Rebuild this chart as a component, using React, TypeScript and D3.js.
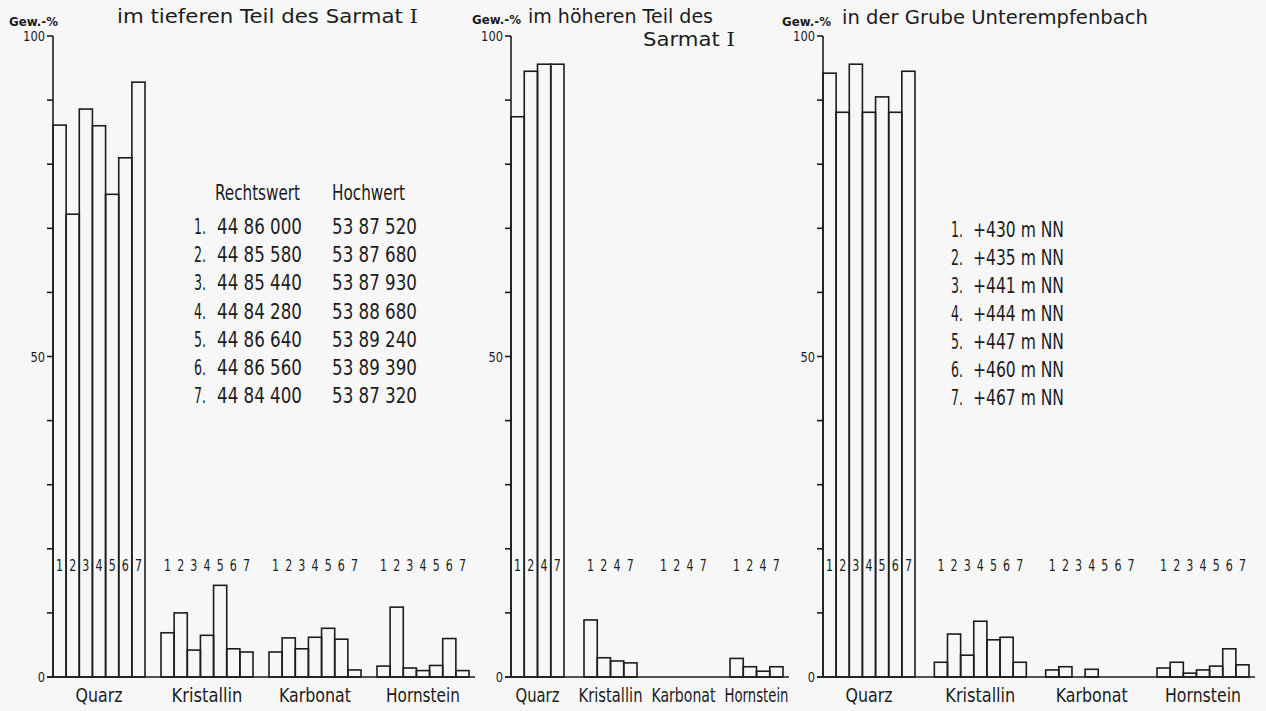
import React from 'react';
import * as d3 from 'd3';

// ---------- data ----------
const categories = ['Quarz', 'Kristallin', 'Karbonat', 'Hornstein'];

// Panel 1: im tieferen Teil des Sarmat I
const samples1 = ['1', '2', '3', '4', '5', '6', '7'];
const quarz1 = [86.1, 72.2, 88.6, 86.0, 75.3, 81.0, 92.8];
const kristallin1 = [6.9, 10.0, 4.2, 6.5, 14.3, 4.4, 3.9];
const karbonat1 = [3.9, 6.1, 4.4, 6.2, 7.6, 5.9, 1.1];
const hornstein1 = [1.7, 10.9, 1.4, 1.0, 1.8, 6.0, 1.0];

// Panel 2: im höheren Teil des Sarmat I
const samples2 = ['1', '2', '4', '7'];
const quarz2 = [87.4, 94.5, 95.6, 95.6];
const kristallin2 = [8.9, 3.0, 2.5, 2.2];
const karbonat2 = [0, 0, 0, 0];
const hornstein2 = [2.9, 1.6, 0.9, 1.6];

// Panel 3: in der Grube Unterempfenbach
const samples3 = ['1', '2', '3', '4', '5', '6', '7'];
const quarz3 = [94.2, 88.1, 95.6, 88.1, 90.5, 88.1, 94.5];
const kristallin3 = [2.3, 6.7, 3.4, 8.7, 5.8, 6.2, 2.3];
const karbonat3 = [1.1, 1.6, 0, 1.2, 0, 0, 0];
const hornstein3 = [1.4, 2.3, 0.6, 1.1, 1.7, 4.4, 1.9];

// Tables
const tableHeaders = ['Rechtswert', 'Hochwert'];
const rechtswert = ['44 86 000', '44 85 580', '44 85 440', '44 84 280', '44 86 640', '44 86 560', '44 84 400'];
const hochwert = ['53 87 520', '53 87 680', '53 87 930', '53 88 680', '53 89 240', '53 89 390', '53 87 320'];
const hoehen = ['+430', '+435', '+441', '+444', '+447', '+460', '+467'];

const yLabelValues = [0, 50, 100];
const yUnit = 'Gew.-%';

// ---------- layout / style ----------
const INK = '#1c1c1c';
const BG = '#f7f7f7';
const DIN = "'Liberation Sans Narrow','DejaVu Sans Condensed','Roboto Condensed',sans-serif";
const TITLE = "'DejaVu Sans','Noto Sans',sans-serif";
const SW = 1.6;

const y = d3.scaleLinear().domain([0, 100]).range([677, 36]);

type Panel = {
  samples: string[];
  values: number[][];
  x0: number;
  x1: number;
  pad: number;
  unitX: number;
  unitY: number;
  catW: number[];
  titles: { text: string; x: number; y: number; w: number; roman?: boolean }[];
};

const panels: Panel[] = [
  {
    samples: samples1,
    values: [quarz1, kristallin1, karbonat1, hornstein1],
    x0: 53, x1: 469, pad: 0.148,
    unitX: 9, unitY: 26,
    catW: [47, 71, 72, 74],
    titles: [{ text: 'im tieferen Teil des Sarmat', x: 117, y: 23, w: 301, roman: true }],
  },
  {
    samples: samples2,
    values: [quarz2, kristallin2, karbonat2, hornstein2],
    x0: 511, x1: 783, pad: 0.274,
    unitX: 472, unitY: 24,
    catW: [44, 64, 64, 64],
    titles: [
      { text: 'im höheren Teil des', x: 528, y: 23, w: 185 },
      { text: 'Sarmat', x: 643, y: 46, w: 92, roman: true },
    ],
  },
  {
    samples: samples3,
    values: [quarz3, kristallin3, karbonat3, hornstein3],
    x0: 823, x1: 1249, pad: 0.174,
    unitX: 782, unitY: 26,
    catW: [47, 70, 72, 76],
    titles: [{ text: 'in der Grube Unterempfenbach', x: 842, y: 24, w: 306 }],
  },
];

function PanelView({ p }: { p: Panel }) {
  const xg = d3.scaleBand<string>().domain(categories).range([p.x0, p.x1]).paddingInner(p.pad).paddingOuter(0);
  const xb = d3.scaleBand<string>().domain(p.samples).range([0, xg.bandwidth()]).padding(0);
  const axisX = p.x0;
  const ticks = y.ticks(10);
  return (
    <g>
      {/* unit label */}
      <text x={p.unitX} y={p.unitY} fontFamily={DIN} fontSize={13} fontWeight="bold" fill={INK}
        textLength={49} lengthAdjust="spacingAndGlyphs">{yUnit}</text>
      {/* titles */}
      {p.titles.map((t, i) => (
        <text key={i} x={t.x} y={t.y} fontFamily={TITLE} fontSize={19} fill={INK}
          textLength={t.w} lengthAdjust="spacingAndGlyphs">
          {t.text}
          {t.roman ? <tspan fontFamily="'DejaVu Serif','Liberation Serif',serif"> I</tspan> : null}
        </text>
      ))}
      {/* y axis */}
      <line x1={axisX} x2={axisX} y1={y(0)} y2={y(100)} stroke={INK} strokeWidth={SW} />
      {ticks.map((t) => (
        <line key={t} x1={axisX - 6} x2={axisX} y1={y(t)} y2={y(t)} stroke={INK} strokeWidth={SW} />
      ))}
      {yLabelValues.map((t) => (
        <text key={t} x={axisX - 8} y={y(t) + 5} textAnchor="end" fontFamily={DIN} fontSize={14} fill={INK}
          textLength={String(t).length * 7.3} lengthAdjust="spacingAndGlyphs">{t}</text>
      ))}
      {/* bars */}
      {categories.map((c, ci) => (
        <g key={c} transform={`translate(${xg(c)},0)`}>
          {p.samples.map((s, si) => {
            const v = p.values[ci][si];
            if (!(v > 0)) return null;
            return (
              <rect key={s} x={xb(s)} y={y(v)} width={xb.bandwidth()} height={y(0) - y(v)}
                fill="none" stroke={INK} strokeWidth={SW} />
            );
          })}
          {p.samples.map((s) => (
            <text key={'n' + s} x={(xb(s) as number) + xb.bandwidth() / 2} y={571} textAnchor="middle"
              fontFamily={DIN} fontSize={16} fill={INK} textLength={7} lengthAdjust="spacingAndGlyphs">{s}</text>
          ))}
          <text x={xg.bandwidth() / 2 - p.catW[ci] / 2} y={702} fontFamily={DIN} fontSize={19} fill={INK}
            textLength={p.catW[ci]} lengthAdjust="spacingAndGlyphs">{c}</text>
        </g>
      ))}
      {/* baseline */}
      <line x1={axisX - 6} x2={p.x1 + 6} y1={y(0)} y2={y(0)} stroke={INK} strokeWidth={SW} />
    </g>
  );
}

export default function App() {
  const rowStep = 28.2;
  const T = { fontFamily: DIN, fontSize: 21, fill: INK } as const;
  return (
    <svg width={1266} height={711} style={{ position: 'absolute', left: 0, top: 0, display: 'block', background: BG }}>
      <rect x={0} y={0} width={1266} height={711} fill={BG} />
      {panels.map((p, i) => <PanelView key={i} p={p} />)}

      {/* Table panel 1 */}
      <text x={215} y={200} {...T} textLength={85} lengthAdjust="spacingAndGlyphs">{tableHeaders[0]}</text>
      <text x={332} y={200} {...T} textLength={73} lengthAdjust="spacingAndGlyphs">{tableHeaders[1]}</text>
      {rechtswert.map((r, i) => (
        <g key={r}>
          <text x={194} y={234 + i * rowStep} {...T} textLength={12} lengthAdjust="spacingAndGlyphs">{`${i + 1}.`}</text>
          <text x={217} y={234 + i * rowStep} {...T} textLength={85} lengthAdjust="spacingAndGlyphs">{r}</text>
          <text x={332} y={234 + i * rowStep} {...T} textLength={85} lengthAdjust="spacingAndGlyphs">{hochwert[i]}</text>
        </g>
      ))}

      {/* Legend panel 3 */}
      {hoehen.map((h, i) => (
        <g key={h}>
          <text x={951} y={237 + i * 28} {...T} textLength={12} lengthAdjust="spacingAndGlyphs">{`${i + 1}.`}</text>
          <text x={973} y={237 + i * 28} {...T} textLength={91} lengthAdjust="spacingAndGlyphs">
            {`${h} m  NN`}
          </text>
        </g>
      ))}
    </svg>
  );
}
